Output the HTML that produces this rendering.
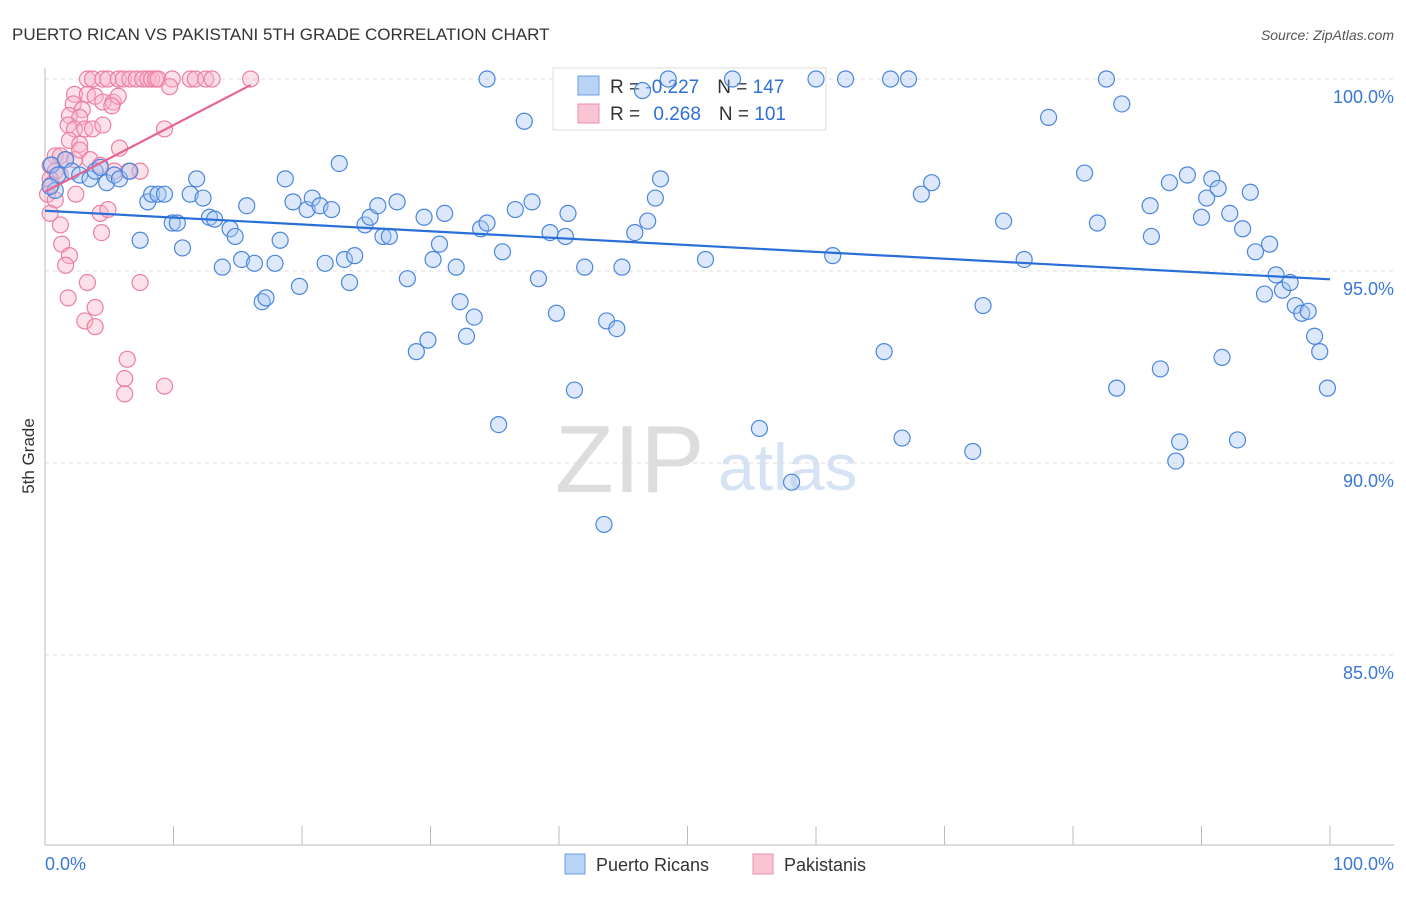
<!DOCTYPE html>
<html><head><meta charset="utf-8"><style>
body{margin:0;background:#fff;font-family:"Liberation Sans",sans-serif}
svg text{font-family:"Liberation Sans",sans-serif}
</style></head><body>
<svg id="chart" width="1406" height="892">
<text x="12" y="40" font-size="17" fill="#333">PUERTO RICAN VS PAKISTANI 5TH GRADE CORRELATION CHART</text>
<text x="1394" y="40" font-size="14" fill="#555" font-style="italic" text-anchor="end">Source: ZipAtlas.com</text>
<text x="555" y="492" font-size="96" fill="#ddd" font-family="Liberation Serif">ZIP</text>
<text x="718" y="490" font-size="66" fill="#d5e3f5">atlas</text>
<g id="grid"></g><g id="axes"></g>
<g>
<rect x="553" y="68" width="273" height="62" fill="#fff" stroke="#ddd"/>
<rect x="578" y="76" width="21" height="19" fill="#b9d3f5" stroke="#6a9ee8"/>
<rect x="578" y="104" width="21" height="19" fill="#f9c4d4" stroke="#ec8fae"/>
<text x="610" y="93" font-size="19" fill="#333">R = <tspan fill="#2f6fd6">-0.227</tspan><tspan dx="18">N = </tspan><tspan fill="#2f6fd6">147</tspan></text>
<text x="610" y="120" font-size="19" fill="#333">R = <tspan dx="8" fill="#2f6fd6">0.268</tspan><tspan dx="18">N = </tspan><tspan fill="#2f6fd6">101</tspan></text>
</g>
<g id="pts"></g><g id="lines"></g>
<text x="34" y="456" font-size="17" fill="#333" text-anchor="middle" transform="rotate(-90 34 456)">5th Grade</text>
<text x="45" y="870" font-size="18" fill="#3a78d6">0.0%</text>
<text x="1394" y="870" font-size="18" fill="#3a78d6" text-anchor="end">100.0%</text>
<g>
<rect x="565" y="854" width="20" height="20" fill="#b9d3f5" stroke="#6a9ee8"/>
<text x="596" y="871" font-size="18" fill="#333">Puerto Ricans</text>
<rect x="753" y="854" width="20" height="20" fill="#f9c4d4" stroke="#ec8fae"/>
<text x="784" y="871" font-size="18" fill="#333">Pakistanis</text>
</g>
</svg>
<script>
const yTicks=[100,95,90,85];
const xTickCount=10;
const blueX=[0.5,1.0,1.6,2.1,2.7,3.5,3.9,4.3,4.8,5.4,5.8,6.6,0.8,0.4,8.0,8.3,8.8,9.3,7.4,9.9,10.3,10.7,11.3,11.8,12.3,12.8,13.2,13.8,14.4,14.8,15.3,15.7,16.3,16.9,17.2,17.9,18.3,18.7,19.3,19.8,20.4,20.8,21.4,21.8,22.3,22.9,23.3,23.7,24.1,24.9,25.3,25.9,26.3,26.8,27.4,28.2,28.9,29.5,29.8,30.2,30.7,31.1,32.0,32.3,32.8,33.4,33.9,34.4,35.3,35.6,36.6,37.3,37.9,38.4,39.3,39.8,40.5,40.7,41.2,42.0,43.5,43.7,44.5,44.9,45.9,46.9,47.5,47.9,48.5,51.4,53.5,55.6,58.1,60.0,61.3,62.3,65.3,65.8,66.7,67.2,68.2,69.0,72.2,73.0,74.6,76.2,80.9,81.9,82.6,83.4,83.8,86.0,86.1,86.8,87.5,88.0,88.3,88.9,90.0,90.4,90.8,91.3,91.6,92.2,92.8,93.2,93.8,94.2,94.9,95.3,95.8,96.3,96.9,97.3,97.8,98.3,98.8,99.2,99.8,78.1,34.4,46.5];
const blueY=[97.76,97.5,97.9,97.6,97.5,97.4,97.6,97.7,97.3,97.5,97.4,97.6,97.1,97.2,96.8,97.0,97.0,97.0,95.8,96.25,96.25,95.6,97.0,97.4,96.9,96.4,96.35,95.1,96.1,95.9,95.3,96.7,95.2,94.2,94.3,95.2,95.8,97.4,96.8,94.6,96.6,96.9,96.7,95.2,96.6,97.8,95.3,94.7,95.4,96.2,96.4,96.7,95.9,95.9,96.8,94.8,92.9,96.4,93.2,95.3,95.7,96.5,95.1,94.2,93.3,93.8,96.1,96.25,91.0,95.5,96.6,98.9,96.8,94.8,96.0,93.9,95.9,96.5,91.9,95.1,88.4,93.7,93.5,95.1,96.0,96.3,96.9,97.4,100,95.3,100,90.9,89.5,100,95.4,100,92.9,100,90.65,100,97.0,97.3,90.3,94.1,96.3,95.3,97.55,96.25,100,91.95,99.35,96.7,95.9,92.45,97.3,90.05,90.55,97.5,96.4,96.9,97.4,97.15,92.75,96.5,90.6,96.1,97.05,95.5,94.4,95.7,94.9,94.5,94.7,94.1,93.9,93.95,93.3,92.9,91.95,99.0,100,99.7];
const pinkX=[3.3,3.7,4.5,4.9,5.7,6.1,6.6,7.1,7.6,8.0,8.3,8.6,8.8,9.9,11.3,11.7,12.5,13.0,16.0,9.7,2.3,3.3,3.9,4.5,5.3,5.7,2.2,2.9,5.2,1.9,2.7,1.8,2.3,3.1,3.7,4.5,9.3,1.9,2.7,5.8,0.8,1.2,1.6,2.3,2.7,0.4,0.8,1.2,0.4,0.5,0.2,0.8,0.4,1.2,4.3,4.9,4.4,1.3,1.9,1.6,3.3,7.4,1.8,3.9,3.1,3.9,6.4,6.2,9.3,6.2,2.4,5.4,6.5,7.4,3.5,4.3];
const pinkY=[100,100,100,100,100,100,100,100,100,100,100,100,100,100,100,100,100,100,100,99.8,99.6,99.6,99.55,99.4,99.4,99.55,99.35,99.2,99.3,99.05,99.0,98.8,98.7,98.7,98.7,98.8,98.7,98.4,98.3,98.2,98.0,98.0,97.9,97.9,98.15,97.75,97.6,97.5,97.4,97.25,97.0,96.85,96.5,96.2,96.5,96.6,96.0,95.7,95.4,95.15,94.7,94.7,94.3,94.05,93.7,93.55,92.7,92.2,92.0,91.8,97.0,97.6,97.6,97.6,97.9,97.75];
const X0=45,X1=1330,YT=79,YB=847;
const xs=v=>X0+(v/100)*(X1-X0);
const ys=v=>YT+(100-v)/20*(YB-YT);
const NS='http://www.w3.org/2000/svg';
function mk(tag,attrs,parent){const e=document.createElementNS(NS,tag);for(const k in attrs)e.setAttribute(k,attrs[k]);document.getElementById(parent).appendChild(e);return e;}
yTicks.forEach(t=>{
 const l=mk('line',{x1:X0,x2:1394,y1:ys(t),y2:ys(t),stroke:'#ddd','stroke-dasharray':'4,4'},'grid');
 
 
 const tx=mk('text',{x:1394,y:ys(t)+24,'font-size':18,fill:'#3a78d6','text-anchor':'end'},'grid');
 tx.textContent=t.toFixed(1)+'%';
 
 
});
const ax=mk('line',{x1:X0,x2:1394,y1:845,y2:845,stroke:'#bbb'},'axes');


const ay=mk('line',{x1:X0,x2:X0,y1:68,y2:845,stroke:'#bbb'},'axes');


for(let i=0;i<=xTickCount;i++){
 const t=mk('line',{x1:xs(i*10),x2:xs(i*10),y1:826,y2:845,stroke:'#bbb'},'axes');
 
 
}
function pts(X,Y,fill,stroke,name){
 X.forEach((x,i)=>{
  const c=mk('circle',{cx:xs(x),cy:ys(Y[i]),r:8,fill:fill,'fill-opacity':0.4,stroke:stroke,'stroke-width':1.2},'pts');
  
  
 });
}
pts(pinkX,pinkY,'#f7b3c8','#ec7fa3','pakistani-point');
pts(blueX,blueY,'#a9c8f2','#4a86de','puerto-rican-point');
function reg(X,Y){const n=X.length;let mx=0,my=0;X.forEach((x,i)=>{mx+=x;my+=Y[i];});mx/=n;my/=n;let sxy=0,sxx=0;X.forEach((x,i)=>{sxy+=(x-mx)*(Y[i]-my);sxx+=(x-mx)**2;});const b=sxy/sxx;return [my-b*mx,b];}
const [ba,bb]=reg(blueX,blueY);
const bl=mk('line',{x1:xs(0),y1:ys(ba),x2:xs(100),y2:ys(ba+bb*100),stroke:'#2a6fd8','stroke-width':2.2},'lines');


const [pa,pb]=reg(pinkX,pinkY);
let pxe=Math.max(...pinkX);
const pl=mk('line',{x1:xs(0),y1:ys(pa),x2:xs(pxe),y2:ys(pa+pb*pxe),stroke:'#e8648e','stroke-width':2.2},'lines');


</script>
</body></html>
